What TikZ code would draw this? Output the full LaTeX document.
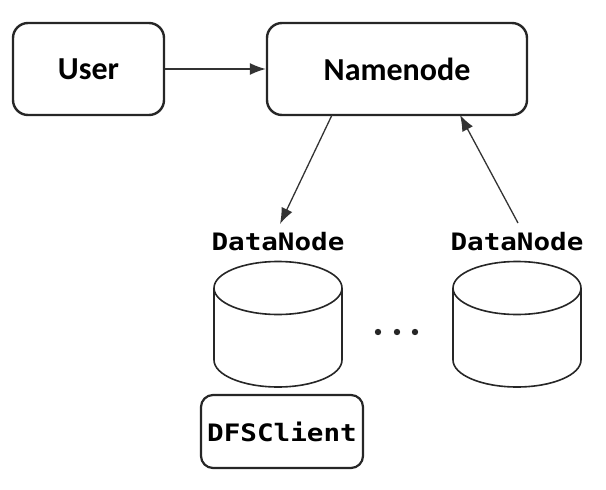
\documentclass[tikz,border=0pt]{standalone}
\usepackage{fontspec}
\setmainfont{Carlito}
\newfontfamily\monob[FakeStretch=1.15]{DejaVu Sans Mono Bold}
\usetikzlibrary{arrows.meta}
\tikzset{
  rbox/.style={draw=black!85, line width=2.4pt, rounded corners=15pt, fill=white, inner sep=0pt},
  boxtext/.style={font=\fontsize{32}{36}\selectfont\bfseries},
  monotext/.style={font=\fontsize{24}{28}\selectfont\monob, inner sep=0pt},
  conn/.style={draw=black!80, line width=1.3pt, -{Latex[length=16pt,width=12pt]}},
  cyl/.style={draw=black!85, line width=1.6pt}
}
\begin{document}
\begin{tikzpicture}[x=1pt,y=-1pt]
\useasboundingbox (0,0) rectangle (606,490);
% top boxes
\node[rbox, minimum width=151pt, minimum height=92pt, boxtext] (user) at (88.5,69) {User};
\node[rbox, minimum width=260pt, minimum height=92pt, boxtext] (nn) at (397,69) {Namenode};
\draw[conn] (user.east) -- (nn.west);
% DataNode labels
\node[monotext] (dn1) at (278,242) {DataNode};
\node[monotext] (dn2) at (517,242) {DataNode};
% arrows
\coordinate (a1s) at (332,115);
\coordinate (a1e) at (280,224);
\coordinate (a2s) at (518,223);
\coordinate (a2e) at (460,115);
\draw[conn] (a1s) -- (a1e);
\draw[conn] (a2s) -- (a2e);
% cylinders
\foreach \cx/\nm in {278/c1, 517/c2}{
  \coordinate (\nm) at (\cx,288);
  \draw[cyl, fill=white] (\cx-64,288) -- (\cx-64,360) arc[start angle=180, end angle=360, x radius=64, y radius=-27] -- (\cx+64,288);
  \draw[cyl, fill=white] (\nm) ellipse[x radius=64, y radius=26.5];
}
% dots
\foreach \dx in {378,397,415}{
  \fill[black!85] (\dx,332) circle[radius=3.2pt];
}
% DFSClient
\node[rbox, rounded corners=12pt, line width=2.2pt, minimum width=162pt, minimum height=73pt, monotext] (dfs) at (282,431.5) {DFSClient};
\end{tikzpicture}
\end{document}
